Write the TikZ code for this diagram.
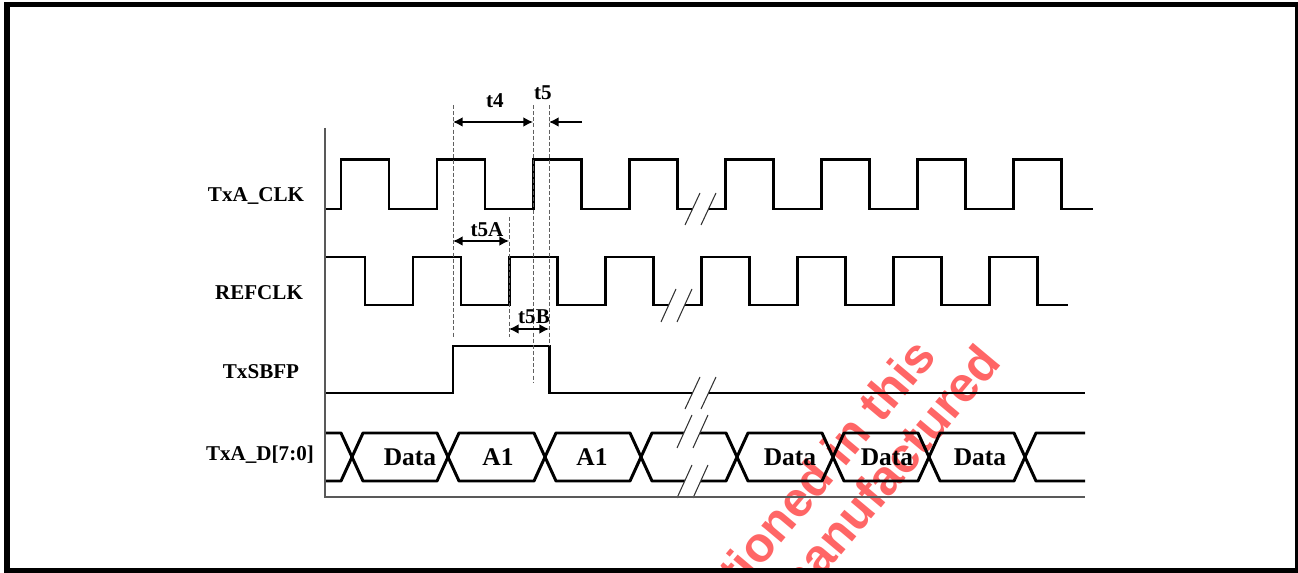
\documentclass[tikz,border=0pt]{standalone}
\usepackage{fontspec}
\setmainfont{Liberation Serif}
\newfontfamily\wmfont{Liberation Sans}
\usepackage{tikz}
\usetikzlibrary{calc, arrows.meta}

\tikzset{
  sig/.style={line width=1.7pt, line join=miter},
  bus/.style={line width=1.7pt, line join=round},
  guide/.style={dash pattern=on 2.3pt off 1.2pt, line width=0.45pt, gray!75!black},
  axisline/.style={line width=1.1pt, gray!70!black},
  brk/.style={line width=0.6pt, black!80},
  dim/.style={line width=0.8pt},
  lbl/.style={font=\bfseries\fontsize{12}{14}\selectfont, inner sep=1pt},
  dlbl/.style={font=\bfseries\fontsize{14.5}{16}\selectfont, inner sep=1pt},
  wm/.style={rotate=50, inner sep=0pt, text=red!60,
    font=\wmfont\bfseries\fontsize{28}{30}\selectfont}
}

% break mark: x, y bottom, y top
\newcommand{\brkmark}[3]{%
  \fill[white] (#1,#2) -- ({#1+15},#3) -- ({#1+31},#3) -- ({#1+16},#2) -- cycle;
  \draw[brk] (#1,#2) -- ({#1+15},#3) ({#1+16},#2) -- ({#1+31},#3);
}

\begin{document}
\begin{tikzpicture}[x=0.02cm, y=-0.02cm, >={Latex[length=5.5pt,width=5.5pt]}]
    \useasboundingbox (0,0) rectangle (1298,573);

    % watermark
    \node[wm, anchor=base east] (wm1) at (938,357) {mentioned in this};
    \node[wm, anchor=base east] (wm2) at (1003,363) {manufactured};

    % frame
    \draw[line width=3.4pt] (7,4.5) rectangle (1298,571);

    % signal names
    \node[lbl] (nclk) at (256,196) {TxA\_CLK};
    \node[lbl] (nref) at (259,293) {REFCLK};
    \node[lbl] (nsb) at (261,372) {TxSBFP};
    \node[lbl] (ndat) at (260,455) {TxA\_D[7:0]};

    % TxA_CLK
    \draw[sig] (325,209) \foreach \r in {341,437,533,629,725,821,917,1013}
        { -- (\r,209) -- (\r,160) -- ({\r+48},160) -- ({\r+48},209) } -- (1093,209);
    \brkmark{685}{225}{193}

    % REFCLK
    \draw[sig] (325,257) \foreach \f in {365,461,557,653,749,845,941}
        { -- (\f,257) -- (\f,305) -- ({\f+48},305) -- ({\f+48},257) }
        -- (1037,257) -- (1037,305) -- (1068,305);
    \brkmark{661}{322}{289}

    % TxSBFP
    \draw[sig] (325,393) -- (453,393) -- (453,346) -- (549,346) -- (549,393) -- (1085,393);
    \brkmark{685}{409}{377}

    % TxA_D[7:0]
    \draw[bus] (325,433) -- (341,433) -- (352,457) -- (341,481) -- (325,481);
    \foreach \a/\b in {352/448, 448/545, 545/641, 641/737, 737/833, 833/929, 929/1025}
        \draw[bus] (\a,457) -- ({\a+11},433) -- ({\b-11},433) -- (\b,457)
            -- ({\b-11},481) -- ({\a+11},481) -- cycle;
    \draw[bus] (1085,433) -- (1036,433) -- (1025,457) -- (1036,481) -- (1085,481);
    \brkmark{677}{448}{415}
    \brkmark{677}{498}{465}

    \node[dlbl] (d1) at (410,457) {Data};
    \node[dlbl] (d2) at (498,457) {A1};
    \node[dlbl] (d3) at (592,457) {A1};
    \node[dlbl] (d4) at (790,457) {Data};
    \node[dlbl] (d5) at (887,457) {Data};
    \node[dlbl] (d6) at (980,457) {Data};

    % axes
    \draw[axisline] (325,128) -- (325,497) -- (1085,497);

    % guides
    \draw[guide] (453,105) -- (453,337);
    \draw[guide] (509,217) -- (509,337);
    \draw[guide] (533,105) -- (533,382);
    \draw[guide] (549,105) -- (549,346);

    % timings
    \coordinate (a4) at (453,122);
    \coordinate (b4) at (533,122);
    \coordinate (a5) at (582,122);
    \coordinate (b5) at (549,122);
    \coordinate (a5A) at (453,241);
    \coordinate (b5A) at (509,241);
    \coordinate (a5B) at (509,329);
    \coordinate (b5B) at (549,329);
    \draw[dim, <->] (a4) -- (b4);
    \draw[dim, ->] (a5) -- (b5);
    \draw[dim, <->] (a5A) -- (b5A);
    \draw[dim, <->] (a5B) -- (b5B);
    \node[lbl] (t4) at (495,101) {t4};
    \node[lbl] (t5) at (543,93) {t5};
    \node[lbl] (t5A) at (487,230) {t5A};
    \node[lbl] (t5B) at (534,317) {t5B};

\end{tikzpicture}
\end{document}
